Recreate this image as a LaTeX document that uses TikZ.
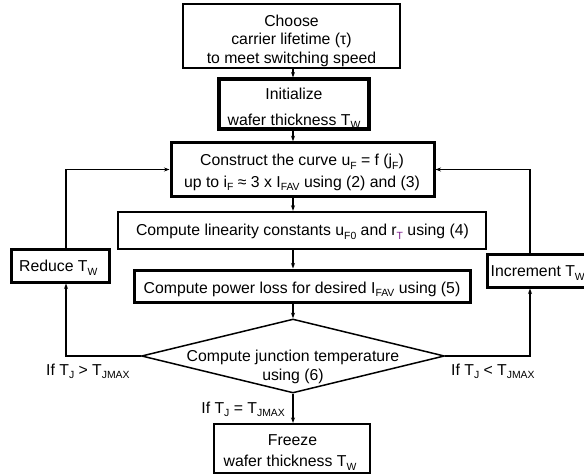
\documentclass[tikz,border=0pt]{standalone}
\usepackage{fontspec}
\setmainfont{Liberation Sans}
\usetikzlibrary{shapes.geometric,arrows.meta}
\definecolor{subpurple}{HTML}{7A1A8A}
\newcommand\lsub[1]{\raisebox{-3.5pt}{\fontsize{10.4}{10.4}\selectfont #1}}
\begin{document}
\begin{tikzpicture}[x=1pt,y=-1pt,
  box/.style={draw, inner sep=0pt, line width=2.6pt},
  thinbox/.style={draw, inner sep=0pt, line width=2.1pt},
  txt/.style={inner sep=0pt, anchor=base},
  conn/.style={line width=1.1pt, -{Stealth[length=5.5pt,width=4pt]}},
  font=\fontsize{15.8}{18.3}\selectfont]
\clip (0,0) rectangle (584,476);
\useasboundingbox (0,0) rectangle (584,476);

% boxes
\node[thinbox, minimum width=217pt, minimum height=64pt] (b1) at (291.5,36) {};
\node[box, line width=3.2pt, minimum width=150pt, minimum height=50pt] (b2) at (294,104) {};
\node[box, line width=3pt, minimum width=263pt, minimum height=53.5pt] (b3) at (302.5,169.5) {};
\node[box, line width=2.4pt, minimum width=368pt, minimum height=37pt] (b4) at (302,230.5) {};
\node[box, line width=3pt, minimum width=336pt, minimum height=32pt] (b5) at (302,286) {};
\node[box, line width=3pt, minimum width=98pt, minimum height=33pt] (red) at (60,265.5) {};
\node[box, line width=3pt, minimum width=120pt, minimum height=33pt, anchor=west] (inc) at (486,270.5) {};
\node[diamond, draw, line width=1.5pt, inner sep=0pt, minimum width=303pt, minimum height=74pt] (dia) at (293,356) {};
\node[thinbox, minimum width=156pt, minimum height=49pt] (frz) at (292,448.5) {};

% texts
\node[txt] (t1a) at (291.5,26.7) {Choose};
\node[txt] (t1b) at (291.5,45) {carrier lifetime (τ)};
\node[txt] (t1c) at (291.5,63.3) {to meet switching speed};
\node[txt] (t2a) at (294,99.5) {Initialize};
\node[txt] (t2b) at (294,125.3) {wafer thickness T\lsub{W}};
\node[txt] (t3a) at (302,165.7) {Construct the curve u\lsub{F} = f (j\lsub{F})};
\node[txt] (t3b) at (302,187.3) {up to i\lsub{F} ≈ 3 x I\lsub{FAV} using (2) and (3)};
\node[txt] (t4) at (302.5,236) {Compute linearity constants u\lsub{F0} and r\lsub{\textcolor{subpurple}{T}} using (4)};
\node[txt] (t5) at (302,293) {Compute power loss for desired I\lsub{FAV} using (5)};
\node[txt] (tr) at (58.3,271.7) {Reduce T\lsub{W}};
\node[txt, anchor=base west] (ti) at (490.5,276.7) {Increment T\lsub{W}};
\node[txt] (tda) at (293,361.7) {Compute junction temperature};
\node[txt] (tdb) at (293,380.7) {using (6)};
\node[txt] (tfa) at (292.5,445) {Freeze};
\node[txt] (tfb) at (290,466.5) {wafer thickness T\lsub{W}};

% labels
\node[txt, anchor=base west] (lgt) at (46,375) {If T\lsub{J} > T\lsub{JMAX}};
\node[txt, anchor=base west] (llt) at (451,375) {If T\lsub{J} < T\lsub{JMAX}};
\node[txt, anchor=base east] (leq) at (285,413) {If T\lsub{J} = T\lsub{JMAX}};

% connectors
\coordinate (spine) at (293,0);
\coordinate (lcol) at (66,0);
\coordinate (rcol) at (530,0);
\draw[conn] (b1.south -| spine) -- (b2.north -| spine);
\draw[conn] (b2.south -| spine) -- (b3.north -| spine);
\draw[conn] (b3.south -| spine) -- (b4.north -| spine);
\draw[conn] (b4.south -| spine) -- (b5.north -| spine);
\draw[conn] (b5.south -| spine) -- (dia.north);
\draw[conn] (dia.south) -- (frz.north -| spine);
\draw[conn] (dia.west) -- (dia.west -| lcol) -- (red.south -| lcol);
\draw[conn] (red.north -| lcol) -- (b3.west -| lcol) -- (b3.west);
\draw[conn] (dia.east) -- (dia.east -| rcol) -- (inc.south -| rcol);
\draw[conn] (inc.north -| rcol) -- (b3.east -| rcol) -- (b3.east);
\end{tikzpicture}
\end{document}
